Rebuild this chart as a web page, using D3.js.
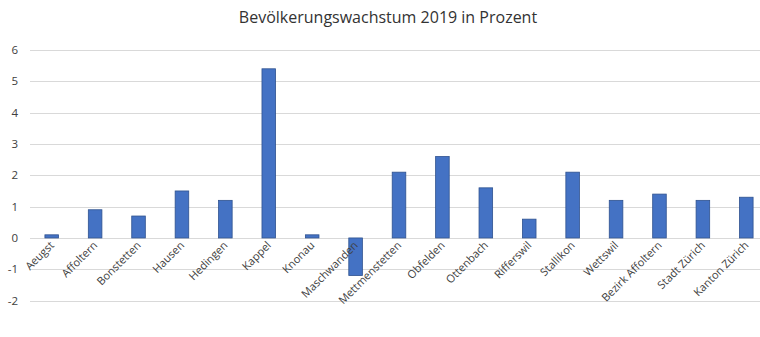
<!DOCTYPE html>
<html>
<head>
<meta charset="utf-8">
<script src="https://cdn.jsdelivr.net/npm/d3@7"></script>
<style>
  body { margin: 0; background: #fff; overflow: hidden; }
  text { font-family: "Open Sans", "Noto Sans", sans-serif; }
</style>
</head>
<body>
<div id="chart"></div>
<script>
const categories = ['Aeugst', 'Affoltern', 'Bonstetten', 'Hausen', 'Hedingen', 'Kappel', 'Knonau',
    'Maschwanden', 'Mettmenstetten', 'Obfelden', 'Ottenbach', 'Rifferswil', 'Stallikon',
    'Wettswil', 'Bezirk Affoltern', 'Stadt Zürich', 'Kanton Zürich'];
const growth = [0.1, 0.9, 0.7, 1.5, 1.2, 5.4, 0.1, -1.2, 2.1, 2.6, 1.6, 0.6, 2.1, 1.2, 1.4, 1.2, 1.3];
const yTicks = [-2, -1, 0, 1, 2, 3, 4, 5, 6];
const title = 'Bevölkerungswachstum 2019 in Prozent';

const width = 760, height = 337;
const svg = d3.select('#chart').append('svg')
    .attr('width', width)
    .attr('height', height);

const x = d3.scaleBand()
    .domain(categories)
    .range([30, 768])
    .paddingInner(0.687)
    .paddingOuter(0.3435);

const y = d3.scaleLinear()
    .domain([-2, 6])
    .range([300.6, 50]);

// gridlines
svg.append('g')
    .selectAll('line')
    .data(yTicks)
    .join('line')
    .attr('x1', 30)
    .attr('x2', width)
    .attr('y1', d => Math.round(y(d)) + 0.5)
    .attr('y2', d => Math.round(y(d)) + 0.5)
    .attr('stroke', '#d9d9d9')
    .attr('stroke-width', 1);

// y labels
svg.append('g')
    .selectAll('text')
    .data(yTicks)
    .join('text')
    .attr('x', 18)
    .attr('y', d => y(d))
    .attr('dy', '0.35em')
    .attr('text-anchor', 'end')
    .attr('font-size', 11.5)
    .attr('fill', '#404040')
    .text(d => d);

// bars
svg.append('g')
    .selectAll('rect')
    .data(growth)
    .join('rect')
    .attr('x', (d, i) => x(categories[i]))
    .attr('width', x.bandwidth())
    .attr('y', d => y(Math.max(0, d)))
    .attr('height', d => Math.abs(y(d) - y(0)))
    .attr('fill', '#4472c4')
    .attr('stroke', '#2f528f')
    .attr('stroke-width', 0.8);

// x labels
svg.append('g')
    .selectAll('text')
    .data(categories)
    .join('text')
    .attr('transform', d => `translate(${x(d) + x.bandwidth() / 2 + 3},246) rotate(-45)`)
    .attr('text-anchor', 'end')
    .attr('font-size', 11)
    .attr('fill', '#404040')
    .text(d => d);

// title
svg.append('text')
    .attr('x', 388)
    .attr('y', 23)
    .attr('text-anchor', 'middle')
    .attr('font-size', 16)
    .attr('fill', '#333333')
    .text(title);
</script>
</body>
</html>
